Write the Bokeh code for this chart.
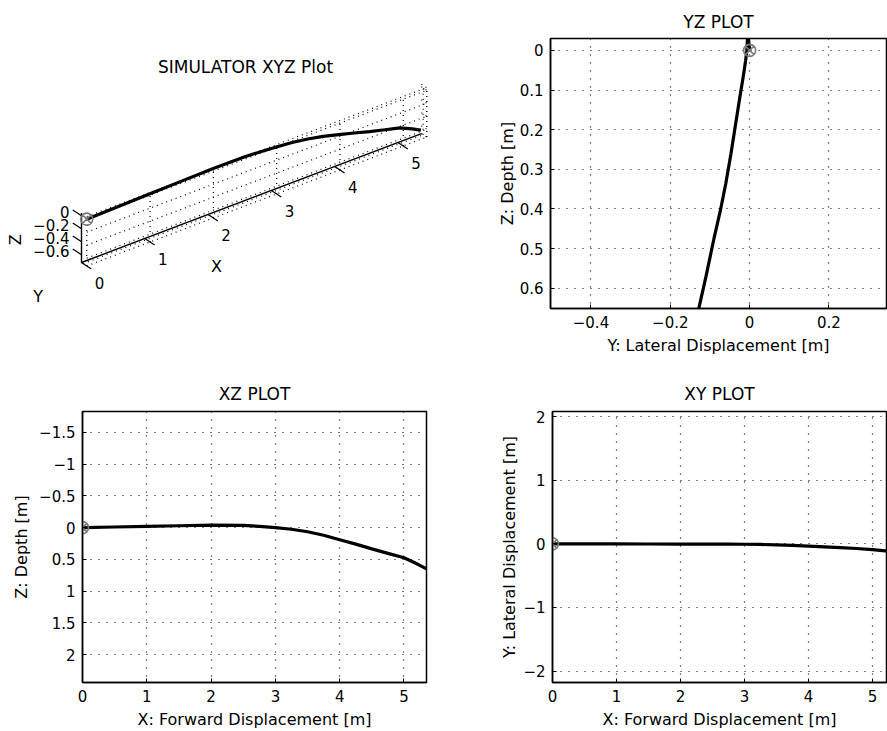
import numpy as np
from bokeh.plotting import figure
from bokeh.layouts import column, row
from bokeh.models import Range1d, FixedTicker, CustomJSTickFormatter
from bokeh.embed import file_html
from bokeh.resources import INLINE
from bokeh.core.properties import value

# ---------------- data ----------------
x_forward = [0.0, 0.5, 1.0, 1.5, 2.0, 2.5, 2.75, 3.0, 3.25, 3.5, 3.75, 4.0, 4.25, 4.5, 4.75, 5.0, 5.2, 5.35]
z_depth = [0.0, -0.01, -0.02, -0.03, -0.04, -0.035, -0.02, 0.0, 0.025, 0.065, 0.12, 0.19, 0.26, 0.335,
           0.405, 0.475, 0.57, 0.65]
y_lateral = [0.0, -0.001, -0.002, -0.003, -0.004, -0.005, -0.006, -0.007, -0.01, -0.016, -0.025, -0.036,
             -0.047, -0.06, -0.074, -0.09, -0.11, -0.128]

start_x = [0.0]
start_y = [0.0]
start_z = [0.0]

forward_ticks = [0, 1, 2, 3, 4, 5]
lateral_ticks_yz = [-0.4, -0.2, 0, 0.2]
depth_ticks_yz = [0, 0.1, 0.2, 0.3, 0.4, 0.5, 0.6]
depth_ticks_xz = [-1.5, -1, -0.5, 0, 0.5, 1, 1.5, 2]
lateral_ticks_xy = [-2, -1, 0, 1, 2]
z3d_ticks = [0, -0.2, -0.4, -0.6]
z3d_tick_labels = ["0", "\u22120.2", "\u22120.4", "\u22120.6"]
y3d_ticks = [-0.1, 0.0]

titles = ["SIMULATOR XYZ Plot", "YZ PLOT", "XZ PLOT", "XY PLOT"]
label_x = "X: Forward Displacement [m]"
label_y = "Y: Lateral Displacement [m]"
label_z = "Z: Depth [m]"

FONT = "DejaVu Sans"
minus_fmt = CustomJSTickFormatter(
    code="return String(Math.round(tick*1000)/1000).replace('-', '\\u2212');")


def style_2d(p, xticks, yticks, xlabel, ylabel, ylabel_standoff, title_standoff):
    p.title.align = "center"
    p.title.text_font = FONT
    p.title.text_font_size = "17px"
    p.title.text_font_style = "normal"
    p.title.text_color = "black"
    p.title.standoff = title_standoff
    p.xaxis.ticker = FixedTicker(ticks=xticks)
    p.yaxis.ticker = FixedTicker(ticks=yticks)
    p.xgrid.ticker = p.xaxis[0].ticker
    p.ygrid.ticker = p.yaxis[0].ticker
    p.xaxis.axis_label = xlabel
    p.yaxis.axis_label = ylabel
    for ax in [p.xaxis[0], p.yaxis[0]]:
        ax.formatter = minus_fmt
        ax.major_label_text_font = FONT
        ax.major_label_text_font_size = "15px"
        ax.major_label_text_color = "black"
        ax.axis_label_text_font = FONT
        ax.axis_label_text_font_size = "16px"
        ax.axis_label_text_font_style = "normal"
        ax.axis_label_text_color = "black"
        ax.axis_line_color = "black"
        ax.axis_line_width = 1.5
        ax.major_tick_line_color = "black"
        ax.major_tick_in = 4
        ax.major_tick_out = 0
        ax.minor_tick_line_color = None
    p.xaxis.major_label_standoff = 7
    p.xaxis.axis_label_standoff = 5
    p.yaxis.major_label_standoff = 7
    p.yaxis.axis_label_standoff = ylabel_standoff
    p.grid.grid_line_color = "black"
    p.grid.grid_line_dash = "1 7"
    p.grid.grid_line_width = 1.2
    p.outline_line_color = "black"
    p.outline_line_width = 1.5


def draw_track(p, xs, ys, sx, sy):
    p.line(xs, ys, line_color="black", line_width=3.2)
    p.scatter(sx, sy, marker="circle_x", size=12, line_color="#7a7a7a",
              fill_color=None, line_width=1.6)


# layout geometry (px)
ROW1_H, ROW2_H = 357, 374
LEFT_W, RIGHT_W = 490, 397
R1_TOP, R1_BOT = 38, 49
R2_TOP, R2_BOT = 54, 49

# ---------------- 3D view (projected) ----------------
X3_LIM = (0.0, 5.37)
Y3_LIM = (-0.15, 0.0)
Z3_LIM = (-0.72, 0.04)


def proj(x, y, z):
    x = np.asarray(x, float)
    y = np.asarray(y, float)
    z = np.asarray(z, float)
    dx = x - X3_LIM[0]
    dy = y - Y3_LIM[0]
    dz = z - Z3_LIM[0]
    px = 81.0 + 63.3 * dx + 35.0 * dy
    py = 262.0 - 24.0 * dx - 65.0 * dz + 23.0 * dy
    return px, py


p3 = figure(width=LEFT_W, height=ROW1_H, x_range=Range1d(0, LEFT_W),
            y_range=Range1d(ROW1_H - R1_BOT, R1_TOP),
            x_axis_location=None, y_axis_location=None,
            min_border_left=0, min_border_right=0, min_border_top=R1_TOP, min_border_bottom=R1_BOT,
            toolbar_location=None, output_backend="svg", outline_line_color=None)
p3.grid.visible = False

xmin, xmax = X3_LIM
yf, yb = Y3_LIM
zmin, zmax = Z3_LIM
segs = []
for z in z3d_ticks + [zmax]:
    segs.append(((xmin, yb, z), (xmax, yb, z)))
    segs.append(((xmax, yf, z), (xmax, yb, z)))
for x in forward_ticks + [xmax]:
    segs.append(((x, yb, zmin), (x, yb, zmax)))
    segs.append(((x, yf, zmin), (x, yb, zmin)))
for y in y3d_ticks:
    segs.append(((xmin, y, zmin), (xmax, y, zmin)))
    segs.append(((xmax, y, zmin), (xmax, y, zmax)))
gx, gy = [], []
for a, b in segs:
    px, py = proj([a[0], b[0]], [a[1], b[1]], [a[2], b[2]])
    gx.append(list(px))
    gy.append(list(py))
p3.multi_line(gx, gy, line_color="black", line_dash="1 4", line_width=1.2)

# solid axes
ax_x, ax_y = proj([xmin, xmax], [yf, yf], [zmin, zmin])
p3.line(ax_x, ax_y, line_color="black", line_width=1.4)
az_x, az_y = proj([xmin, xmin], [yf, yf], [zmin, zmax])
p3.line(az_x, az_y, line_color="black", line_width=1.4)

# tick marks
n = len(forward_ticks)
tx0, ty0 = proj(forward_ticks, [yf] * n, [zmin] * n)
tx1, ty1 = proj(forward_ticks, [yf + 0.28] * n, [zmin] * n)
p3.segment(tx0, ty0, tx1, ty1, line_color="black", line_width=1.2)
m = len(z3d_ticks)
zx0, zy0 = proj([xmin] * m, [yf] * m, z3d_ticks)
zx1, zy1 = proj([xmin] * m, [yf - 0.25] * m, z3d_ticks)
p3.segment(zx0, zy0, zx1, zy1, line_color="black", line_width=1.2)

# tick labels
p3.text(tx0, ty0, text=[str(t) for t in forward_ticks], x_offset=18, y_offset=20,
        text_font=value(FONT), text_font_size="15px", text_align="center",
        text_baseline="middle", text_color="black")
p3.text(zx0, zy0, text=z3d_tick_labels, x_offset=-12, y_offset=-4,
        text_font=value(FONT), text_font_size="15px", text_align="right",
        text_baseline="middle", text_color="black")

# axis names
cx, cy = proj([(xmin + xmax) / 2], [yf], [zmin])
p3.text(cx, cy, text=["X"], x_offset=-35, y_offset=68, text_font=value(FONT),
        text_font_size="16px", text_align="center", text_baseline="middle", text_color="black")
zcx, zcy = proj([xmin], [yf], [(zmin + zmax) / 2])
p3.text(zcx, zcy, text=["Z"], x_offset=-66, y_offset=2, angle=np.pi / 2,
        text_font=value(FONT), text_font_size="16px", text_align="center",
        text_baseline="middle", text_color="black")
ycx, ycy = proj([xmin], [(yf + yb) / 2], [zmin])
p3.text(ycx, ycy, text=["Y"], x_offset=-46, y_offset=32, text_font=value(FONT),
        text_font_size="16px", text_align="center", text_baseline="middle", text_color="black")

# title
p3.text([(p3.x_range.start + p3.x_range.end) / 2], [66], text=[titles[0]],
        text_font=value(FONT), text_font_size="17px", text_align="center",
        text_baseline="middle", text_color="black")

# trajectory
z_up = [-d for d in z_depth]
trx, try_ = proj(x_forward, y_lateral, z_up)
p3.line(trx, try_, line_color="black", line_width=3.2)
sx3, sy3 = proj(start_x, start_y, start_z)
p3.scatter(sx3, sy3, marker="circle_x", size=12, line_color="#7a7a7a",
           fill_color=None, line_width=1.6)

# ---------------- YZ plot ----------------
p_yz = figure(width=RIGHT_W, height=ROW1_H, x_range=Range1d(-0.502, 0.345),
              y_range=Range1d(0.651, -0.03), title=titles[1],
              toolbar_location=None, output_backend="svg",
              min_border_left=60, min_border_right=1, min_border_top=R1_TOP, min_border_bottom=R1_BOT)
style_2d(p_yz, lateral_ticks_yz, depth_ticks_yz, label_y, label_z, 0, 13)
draw_track(p_yz, y_lateral, z_depth, start_y, start_z)

# ---------------- XZ plot ----------------
p_xz = figure(width=LEFT_W, height=ROW2_H, x_range=Range1d(0, 5.35),
              y_range=Range1d(2.44, -1.83), title=titles[2],
              toolbar_location=None, output_backend="svg",
              min_border_left=82, min_border_right=64, min_border_top=R2_TOP, min_border_bottom=R2_BOT)
style_2d(p_xz, forward_ticks, depth_ticks_xz, label_x, label_z, 5, 16)
draw_track(p_xz, x_forward, z_depth, start_x, start_z)

# ---------------- XY plot ----------------
p_xy = figure(width=RIGHT_W, height=ROW2_H, x_range=Range1d(0, 5.22),
              y_range=Range1d(-2.18, 2.08), title=titles[3],
              toolbar_location=None, output_backend="svg",
              min_border_left=62, min_border_right=1, min_border_top=R2_TOP, min_border_bottom=R2_BOT)
style_2d(p_xy, forward_ticks, lateral_ticks_xy, label_x, label_y, 1, 16)
draw_track(p_xy, x_forward, y_lateral, start_x, start_y)

layout = column(row(p3, p_yz), row(p_xz, p_xy))
open("out.html", "w").write(file_html(layout, INLINE))
